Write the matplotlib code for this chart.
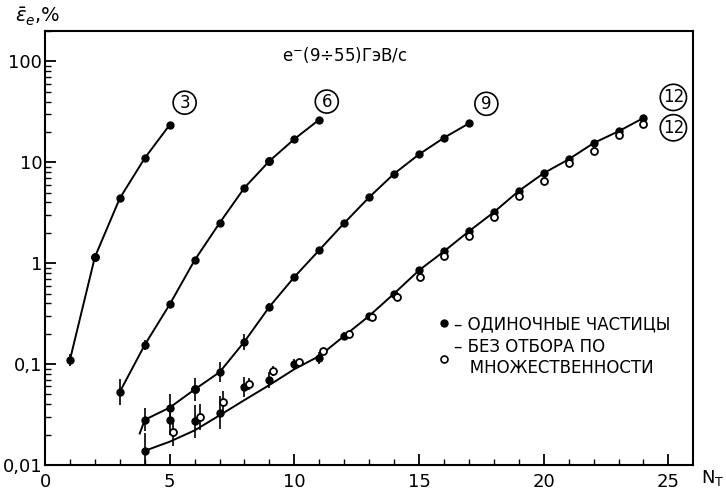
import numpy as np
import matplotlib.pyplot as plt
from matplotlib.lines import Line2D
from matplotlib.ticker import NullFormatter

plt.rcParams['font.family'] = ['Liberation Sans Narrow', 'DejaVu Sans']

# curve (3): single particles
x3 = [1, 2, 3, 4, 5]
y3 = [0.11, 1.15, 4.4, 11.0, 23.5]
e3 = [1.15, 1.0, 1.0, 1.0, 1.0]

# curve (6)
x6 = [3, 4, 5, 6, 7, 8, 9, 10, 11]
y6 = [0.053, 0.155, 0.39, 1.07, 2.5, 5.6, 10.3, 17.0, 26.5]
e6 = [1.35, 1.12, 1.08, 1.0, 1.0, 1.0, 1.0, 1.0, 1.0]

# curve (9)
x9 = [4, 5, 6, 7, 8, 9, 10, 11, 12, 13, 14, 15, 16, 17]
y9 = [0.028, 0.037, 0.056, 0.083, 0.167, 0.37, 0.73, 1.35, 2.5, 4.5, 7.7, 12.0, 17.5, 24.3]
e9 = [1.3, 1.35, 1.3, 1.25, 1.2, 1.1, 1.0, 1.0, 1.0, 1.0, 1.0, 1.0, 1.0, 1.0]
# drawn line of curve (9), starts slightly left of first point
x9_line = [3.8, 4] + x9[1:]
y9_line = [0.0205, 0.028] + y9[1:]

# open points lying on curves 3, 6, 9
xo_extra = [2, 9, 6]
yo_extra = [1.15, 10.3, 0.056]

# curve (12): single particles (filled) and no multiplicity selection (open)
x12 = [4, 5, 6, 7, 8, 9, 10, 11, 12, 13, 14, 15, 16, 17, 18, 19, 20, 21, 22, 23, 24]
y12 = [0.0138, 0.028, 0.027, 0.033, 0.059, 0.069, 0.10, 0.115, 0.19, 0.30, 0.50,
       0.85, 1.31, 2.07, 3.2, 5.2, 7.8, 10.7, 15.5, 20.3, 27.5]
e12 = [1.5, 1.4, 1.45, 1.45, 1.25, 1.2, 1.12, 1.15, 1.1, 1.08, 1.06,
       1.0, 1.0, 1.0, 1.0, 1.0, 1.0, 1.0, 1.0, 1.0, 1.0]
x12o = [5.15, 6.2, 7.15, 8.2, 9.15, 10.2, 11.15, 12.2, 13.1, 14.1, 15.05, 16, 17, 18, 19, 20, 21, 22, 23, 24]
y12o = [0.021, 0.03, 0.042, 0.063, 0.085, 0.105, 0.135, 0.2, 0.29, 0.46, 0.73,
        1.17, 1.85, 2.9, 4.6, 6.6, 9.8, 13.0, 18.5, 24.0]
e12o = [1.35, 1.35, 1.3, 1.15, 1.12, 1.08, 1.0, 1.0, 1.0, 1.0, 1.0,
        1.0, 1.0, 1.0, 1.0, 1.0, 1.0, 1.0, 1.0, 1.0]
# hand-drawn smooth line of curve (12)
x12_line = [4, 5, 6, 7, 8, 9, 10, 11, 12, 13, 14, 15, 16, 17, 18, 19, 20, 21, 22, 23, 24]
y12_line = [0.0138, 0.017, 0.022, 0.031, 0.044, 0.062, 0.089, 0.12, 0.19, 0.30, 0.50,
            0.85, 1.31, 2.07, 3.2, 5.2, 7.8, 10.7, 15.5, 20.3, 27.5]

labels = ['3', '6', '9', '12', '12']
lab_x = [5.6, 11.3, 17.7, 25.2, 25.2]
lab_y = [39, 40, 38, 44, 22]

fig = plt.figure(figsize=(7.26, 5.01), dpi=100)
ax = fig.add_axes([0.062, 0.072, 0.893, 0.866])
ax.set_yscale('log')
ax.set_xlim(0, 26)
ax.set_ylim(0.01, 200)


def bars(y, f):
    y = np.array(y)
    f = np.array(f)
    return np.vstack([y - y / f, y * f - y])


ax.plot(x3, y3, '-', color='black', lw=1.4)
ax.plot(x6, y6, '-', color='black', lw=1.4)
ax.plot(x9_line, y9_line, '-', color='black', lw=1.4)
ax.plot(x12_line, y12_line, '-', color='black', lw=1.4)

for x, y, e in [(x3, y3, e3), (x6, y6, e6), (x9, y9, e9), (x12, y12, e12)]:
    ax.errorbar(x, y, yerr=bars(y, e), fmt='o', color='black',
                ms=5, elinewidth=1.2, capsize=0)

ax.errorbar(x12o, y12o, yerr=bars(y12o, e12o), fmt='o', color='black',
            mfc='white', mew=1.3, ms=5, elinewidth=1.2, capsize=0)
ax.plot(xo_extra, yo_extra, 'o', color='black', mfc='white', mew=1.3, ms=5)

for t, x, y in zip(labels, lab_x, lab_y):
    ax.text(x, y, t, ha='center', va='center', fontsize=12,
            bbox=dict(boxstyle='circle,pad=0.15', fc='none', ec='black', lw=1.2))

ax.text(0.463, 0.945, 'e$^{-}$(9÷55)ГэВ/с', transform=ax.transAxes,
        ha='center', va='center', fontsize=12)

# legend
h1 = Line2D([], [], marker='o', ls='none', color='black', ms=5)
h2 = Line2D([], [], marker='o', ls='none', color='black', mfc='white', mew=1.2, ms=5)
ax.legend([h1, h2], ['– ОДИНОЧНЫЕ ЧАСТИЦЫ', '– БЕЗ ОТБОРА ПО\n   МНОЖЕСТВЕННОСТИ'],
          loc='upper left', bbox_to_anchor=(0.585, 0.38), frameon=False,
          handlelength=0.6, handletextpad=0.3, fontsize=12, labelspacing=0.3)

# axes styling
for s in ax.spines.values():
    s.set_linewidth(1.5)
ax.set_xticks([0, 5, 10, 15, 20, 25])
ax.set_xticks(np.arange(0, 26, 1), minor=True)
ax.set_yticks([0.01, 0.1, 1, 10, 100])
ax.set_yticklabels(['0,01', '0,1', '1', '10', '100'])
ax.yaxis.set_minor_formatter(NullFormatter())
ax.tick_params(which='major', direction='in', length=8, width=1.3, labelsize=13, pad=6)
ax.tick_params(which='minor', direction='in', length=4, width=1.0)
ax.tick_params(axis='y', pad=2)

fig.text(0.02, 0.945, r'$\bar{\varepsilon}_e$,%', fontsize=14, ha='left', va='bottom')
fig.text(0.965, 0.025, 'N$_\\mathrm{T}$', fontsize=13, ha='left', va='bottom')

fig.savefig('out.png', dpi=100)
